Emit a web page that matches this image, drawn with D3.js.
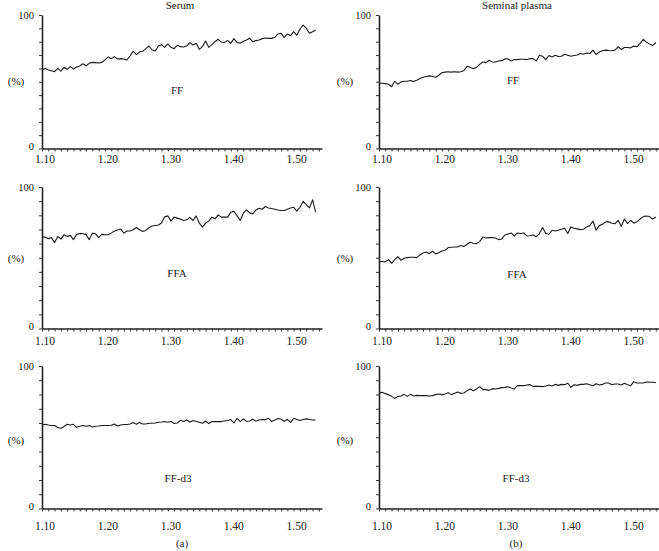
<!DOCTYPE html>
<html>
<head>
<meta charset="utf-8">
<script src="https://cdn.jsdelivr.net/npm/d3@7"></script>
<style>
  body { margin: 0; background: #fff; }
  svg text { font-family: "Liberation Serif", "Times New Roman", serif; fill: #222; }
</style>
</head>
<body>
<svg id="chart" width="659" height="551"></svg>
<script>
// x values (density, step 0.005)
const xs = [1.100, 1.105, 1.110, 1.115, 1.120, 1.125, 1.130, 1.135, 1.140, 1.145,
  1.150, 1.155, 1.160, 1.165, 1.170, 1.175, 1.180, 1.185, 1.190, 1.195,
  1.200, 1.205, 1.210, 1.215, 1.220, 1.225, 1.230, 1.235, 1.240, 1.245,
  1.250, 1.255, 1.260, 1.265, 1.270, 1.275, 1.280, 1.285, 1.290, 1.295,
  1.300, 1.305, 1.310, 1.315, 1.320, 1.325, 1.330, 1.335, 1.340, 1.345,
  1.350, 1.355, 1.360, 1.365, 1.370, 1.375, 1.380, 1.385, 1.390, 1.395,
  1.400, 1.405, 1.410, 1.415, 1.420, 1.425, 1.430, 1.435, 1.440, 1.445,
  1.450, 1.455, 1.460, 1.465, 1.470, 1.475, 1.480, 1.485, 1.490, 1.495,
  1.500, 1.505, 1.510, 1.515, 1.520, 1.525, 1.530, 1.535, 1.540];

const xTickLabels = ["1.10", "1.20", "1.30", "1.40", "1.50"];
const yTickLabels = ["0", "100"];

const serumFF = [58.8, 60.0, 58.8, 58.3, 57.5, 60.0, 58.0, 60.8, 59.3, 61.3,
  59.5, 61.0, 61.8, 63.5, 62.0, 63.8, 64.5, 64.3, 64.0, 64.5,
  66.3, 68.5, 67.3, 68.8, 67.0, 67.3, 67.0, 66.3, 69.3, 73.0,
  70.3, 72.3, 72.8, 74.8, 76.8, 73.8, 73.0, 76.8, 77.8, 75.8,
  78.3, 75.8, 74.8, 77.3, 76.3, 76.0, 76.8, 79.3, 77.5, 78.8,
  74.3, 76.3, 80.5, 75.8, 77.8, 80.0, 81.8, 79.8, 79.5, 81.0,
  78.8, 82.3, 79.5, 78.8, 80.3, 81.3, 82.5, 80.0, 80.8, 81.3,
  82.3, 82.8, 82.5, 82.5, 83.3, 85.8, 86.3, 83.3, 85.8, 84.5,
  87.5, 84.8, 89.3, 92.5, 90.0, 86.3, 87.5, 88.8];

const plasmaFF = [48.9, 48.9, 48.6, 48.1, 46.3, 50.4, 48.1, 49.9, 50.4, 50.4,
  50.9, 50.1, 51.1, 52.4, 53.4, 53.9, 54.4, 53.9, 53.4, 54.9,
  56.7, 57.2, 57.5, 57.2, 57.5, 57.2, 57.5, 58.5, 61.5, 60.8,
  59.7, 60.8, 63.0, 64.8, 64.3, 66.1, 64.8, 64.8, 65.6, 65.8,
  67.1, 67.1, 65.6, 66.6, 66.6, 66.8, 66.8, 66.6, 67.3, 67.3,
  65.6, 69.9, 69.1, 66.6, 69.6, 68.6, 69.9, 68.9, 69.1, 70.6,
  69.9, 69.1, 69.6, 70.1, 71.1, 70.6, 71.6, 71.1, 73.7, 70.4,
  72.2, 73.2, 73.7, 73.4, 73.2, 73.7, 76.2, 74.2, 75.7, 75.7,
  75.4, 76.7, 76.2, 78.7, 81.8, 79.7, 78.2, 77.2, 79.2];

const serumFFA = [64.6, 64.6, 63.5, 64.2, 60.7, 65.1, 63.2, 66.3, 65.1, 65.8,
  62.8, 66.5, 67.2, 67.0, 66.5, 62.8, 67.4, 67.0, 64.2, 66.5,
  66.3, 66.3, 67.4, 68.9, 69.6, 70.3, 67.4, 68.9, 68.9, 69.8,
  71.4, 69.8, 68.6, 69.3, 71.2, 72.4, 72.8, 73.1, 74.5, 78.9,
  79.6, 75.9, 78.7, 78.0, 77.3, 76.3, 76.8, 78.5, 76.3, 79.6,
  74.5, 71.7, 74.5, 75.9, 78.7, 77.5, 80.3, 78.7, 78.7, 78.7,
  82.2, 82.9, 79.6, 76.3, 81.5, 83.8, 81.7, 81.0, 83.8, 85.0,
  84.3, 86.2, 85.2, 84.8, 84.3, 83.8, 83.4, 83.4, 84.3, 85.2,
  85.7, 82.9, 85.7, 89.9, 87.6, 85.2, 90.9, 82.0];

const plasmaFFA = [47.3, 47.3, 47.1, 48.7, 46.1, 48.7, 50.8, 48.2, 49.6, 50.1,
  50.4, 50.4, 50.1, 52.0, 53.4, 54.1, 52.9, 54.6, 52.7, 53.6,
  54.8, 55.3, 57.2, 57.4, 57.6, 57.6, 58.6, 57.9, 59.5, 60.9,
  60.2, 60.0, 61.4, 64.7, 64.0, 64.2, 64.2, 64.0, 62.8, 63.3,
  66.1, 66.8, 67.5, 65.2, 67.5, 67.1, 67.5, 65.4, 65.6, 66.1,
  64.9, 67.1, 71.3, 67.1, 66.6, 69.4, 68.9, 69.4, 70.1, 70.8,
  67.1, 71.8, 70.8, 70.4, 69.9, 70.1, 71.8, 72.7, 76.0, 69.4,
  72.7, 73.6, 75.3, 75.5, 74.4, 74.1, 76.5, 72.2, 77.4, 74.1,
  76.5, 74.4, 75.5, 77.4, 79.1, 79.5, 79.1, 77.4, 78.8];

const serumFFd3 = [58.6, 59.1, 58.6, 58.2, 58.2, 56.8, 56.3, 57.5, 59.1, 58.6,
  59.1, 57.0, 57.7, 58.2, 57.7, 58.2, 57.2, 57.7, 57.9, 58.2,
  58.2, 58.2, 58.4, 59.3, 57.9, 58.6, 58.9, 58.9, 59.3, 60.3,
  59.1, 60.3, 59.3, 59.3, 59.8, 59.8, 60.0, 60.5, 60.7, 61.0,
  60.5, 61.0, 59.6, 60.0, 61.9, 61.0, 62.1, 60.7, 61.7, 61.0,
  60.5, 59.8, 61.4, 59.6, 61.0, 61.0, 61.0, 61.0, 61.4, 61.7,
  62.4, 60.0, 63.3, 61.0, 62.9, 61.2, 61.4, 62.6, 61.4, 62.1,
  62.4, 62.4, 63.3, 61.0, 62.1, 63.1, 62.6, 61.2, 62.6, 60.5,
  63.3, 62.4, 61.7, 62.4, 62.9, 62.4, 62.1, 62.1];

const plasmaFFd3 = [81.1, 81.5, 80.6, 79.9, 78.7, 77.3, 78.7, 79.0, 80.1, 78.7,
  80.1, 79.0, 79.4, 79.2, 79.2, 79.2, 79.0, 79.2, 79.9, 80.4,
  79.9, 80.4, 81.3, 79.9, 80.8, 81.8, 80.8, 81.1, 82.7, 83.9,
  82.7, 83.9, 85.5, 83.4, 83.4, 82.9, 84.1, 83.9, 84.3, 84.8,
  85.0, 85.5, 84.6, 83.9, 86.2, 86.2, 86.2, 86.7, 86.9, 85.7,
  85.7, 85.7, 85.5, 86.0, 86.7, 86.0, 87.1, 86.4, 87.1, 86.9,
  87.9, 85.0, 86.9, 86.4, 87.1, 87.1, 87.6, 86.9, 86.2, 87.6,
  86.7, 87.1, 88.1, 88.1, 86.9, 87.4, 87.4, 86.7, 87.9, 86.9,
  86.2, 89.0, 88.1, 88.1, 88.1, 88.8, 88.6, 88.6, 88.3];

const svg = d3.select("#chart");

// layout of the 2x3 grid
const cols = [
  { x0: 42, x1: 322, pct: 16, title: "Serum", titleX: 180, sub: "(a)", subX: 182 },
  { x0: 379, x1: 659, pct: 345, title: "Seminal plasma", titleX: 517, sub: "(b)", subX: 516 },
];
const rows = [
  { y0: 148.5, y1: 15, pad: 3, pctY: 85 },
  { y0: 328.5, y1: 187, pad: 5, pctY: 262 },
  { y0: 508.5, y1: 366, pad: 10, pctY: 444 },
];

const panels = [
  { col: 0, row: 0, values: serumFF, name: "FF", lx: 177, ly: 94 },
  { col: 1, row: 0, values: plasmaFF, name: "FF", lx: 513, ly: 84 },
  { col: 0, row: 1, values: serumFFA, name: "FFA", lx: 177, ly: 277 },
  { col: 1, row: 1, values: plasmaFFA, name: "FFA", lx: 517, ly: 278 },
  { col: 0, row: 2, values: serumFFd3, name: "FF-d3", lx: 178, ly: 482 },
  { col: 1, row: 2, values: plasmaFFd3, name: "FF-d3", lx: 516, ly: 482 },
];

const xTicks = d3.range(110, 155, 1).map((d) => d / 100);

panels.forEach((p) => {
  const c = cols[p.col];
  const r = rows[p.row];
  const x = d3.scaleLinear().domain([1.10, 1.545]).range([c.x0, c.x1]);
  const y = d3.scaleLinear().domain([0, 100]).range([r.y0, r.y1]);

  const g = svg.append("g");

  g.append("path")
    .datum(p.values)
    .attr("fill", "none")
    .attr("stroke", "#1a1a1a")
    .attr("stroke-width", 1.1)
    .attr("stroke-linejoin", "round")
    .attr("d", d3.line().x((d, i) => x(xs[i])).y((d) => y(d)));

  const yAxis = g.append("g")
    .attr("transform", `translate(${c.x0},0)`)
    .call(
      d3.axisLeft(y)
        .tickValues(d3.range(0, 101, 10))
        .tickSizeInner(3)
        .tickSizeOuter(0)
        .tickPadding(5)
        .tickFormat((d) => (yTickLabels.includes(String(d)) ? String(d) : ""))
    );
  // the "0" sits a little above the x axis line
  yAxis.selectAll(".tick text").filter((d) => d === 0).attr("dy", "0.05em");

  const xAxis = g.append("g")
    .attr("transform", `translate(0,${r.y0})`)
    .call(
      d3.axisBottom(x)
        .tickValues(xTicks)
        .tickSizeInner(3)
        .tickSizeOuter(0)
        .tickPadding(r.pad)
        .tickFormat((d) => {
          const s = d.toFixed(2);
          return xTickLabels.includes(s) ? s : "";
        })
    );
  xAxis.selectAll(".tick text").attr("dx", 2.5);

  [yAxis, xAxis].forEach((a) => {
    a.select(".domain").attr("stroke", "#222").attr("stroke-width", 1.6);
    a.selectAll(".tick line").attr("stroke", "#333");
    a.selectAll("text").attr("font-size", 10.5).attr("fill", "#222");
  });
  xAxis.selectAll("text").attr("font-size", 11.5);

  g.append("text")
    .attr("x", c.pct)
    .attr("y", r.pctY)
    .attr("text-anchor", "middle")
    .attr("font-size", 11)
    .text("(%)");

  g.append("text")
    .attr("x", p.lx)
    .attr("y", p.ly)
    .attr("text-anchor", "middle")
    .attr("font-size", 11)
    .text(p.name);
});

cols.forEach((c) => {
  svg.append("text")
    .attr("x", c.titleX)
    .attr("y", 9)
    .attr("text-anchor", "middle")
    .attr("font-size", 11)
    .text(c.title);
  svg.append("text")
    .attr("x", c.subX)
    .attr("y", 547)
    .attr("text-anchor", "middle")
    .attr("font-size", 11)
    .text(c.sub);
});
</script>
</body>
</html>
